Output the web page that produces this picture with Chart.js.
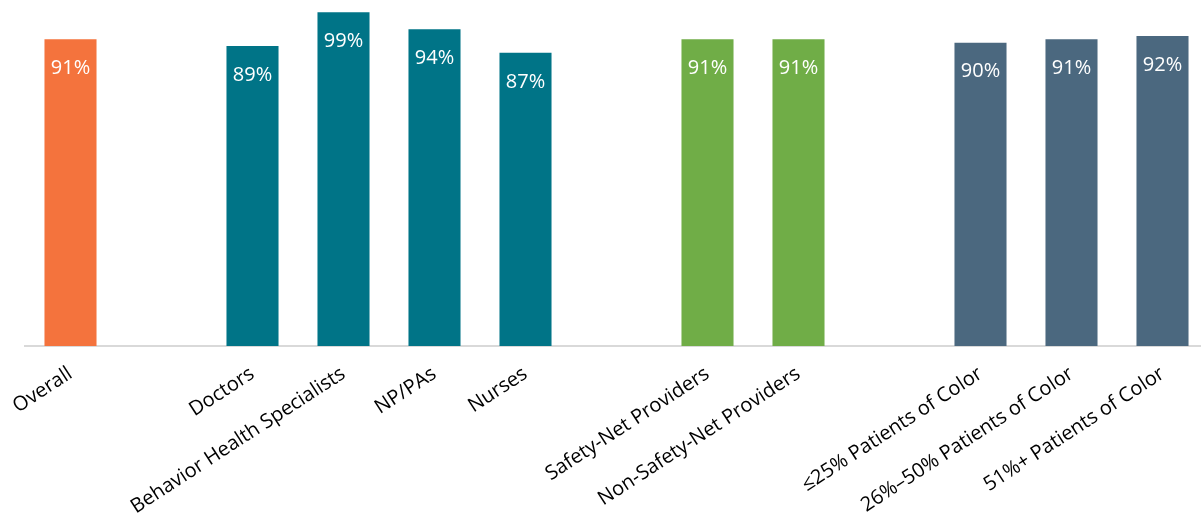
<!DOCTYPE html>
<html>
<head>
<meta charset="utf-8">
<script src="https://cdn.jsdelivr.net/npm/chart.js@4.4.1/dist/chart.umd.min.js"></script>
<style>
  html, body { margin: 0; padding: 0; background: #fff; overflow: hidden; }
  #wrap { width: 1208px; height: 514px; position: relative; }
</style>
</head>
<body>
<div id="wrap"><canvas id="barChart"></canvas></div>
<script>
// ── Data ─────────────────────────────────────────
const categories = [
  'Overall', '',
  'Doctors', 'Behavior Health Specialists', 'NP/PAs', 'Nurses', '',
  'Safety-Net Providers', 'Non-Safety-Net Providers', '',
  '≤25% Patients of Color', '26%–50% Patients of Color', '51%+ Patients of Color',
];
const values = [91, null, 89, 99, 94, 87, null, 91, 91, null, 90, 91, 92];
const groupOf = [0, null, 1, 1, 1, 1, null, 2, 2, null, 3, 3, 3];
const groupColors = ['#F4733D', '#007487', '#70AD47', '#4B687F'];

// ── Value labels inside the bar tops ─────────────
const insideLabels = {
  id: 'insideLabels',
  afterDatasetsDraw(chart) {
    const ctx = chart.ctx;
    const meta = chart.getDatasetMeta(0);
    ctx.save();
    ctx.fillStyle = '#ffffff';
    ctx.font = "20px 'Open Sans', sans-serif";
    ctx.textAlign = 'center';
    ctx.textBaseline = 'middle';
    meta.data.forEach((bar, i) => {
      if (values[i] == null) return;
      ctx.fillText(values[i] + '%', bar.x, bar.y + 29);
    });
    ctx.restore();
  },
};

new Chart(document.getElementById('barChart'), {
  type: 'bar',
  data: {
    labels: categories,
    datasets: [
      {
        data: values,
        backgroundColor: groupOf.map((g) => (g == null ? 'transparent' : groupColors[g])),
        borderWidth: 0,
        categoryPercentage: 1,
        barPercentage: 0.572,
      },
    ],
  },
  options: {
    responsive: true,
    maintainAspectRatio: false,
    animation: false,
    layout: { padding: { left: 25, right: 0, top: 9, bottom: 0 } },
    plugins: {
      legend: { display: false },
      tooltip: { enabled: false },
    },
    scales: {
      x: {
        grid: { display: false, drawTicks: false },
        border: { display: true, color: '#d9d9d9', width: 2 },
        ticks: {
          autoSkip: false,
          minRotation: 33,
          maxRotation: 33,
          padding: 16,
          color: '#000000',
          font: { family: "'Open Sans', sans-serif", size: 20 },
        },
        afterFit(scale) {
          scale.height = 168;
          scale.paddingLeft = 0;
          scale.paddingRight = 0;
        },
      },
      y: {
        display: false,
        min: 0,
        max: 100,
      },
    },
  },
  plugins: [insideLabels],
});
</script>
</body>
</html>
